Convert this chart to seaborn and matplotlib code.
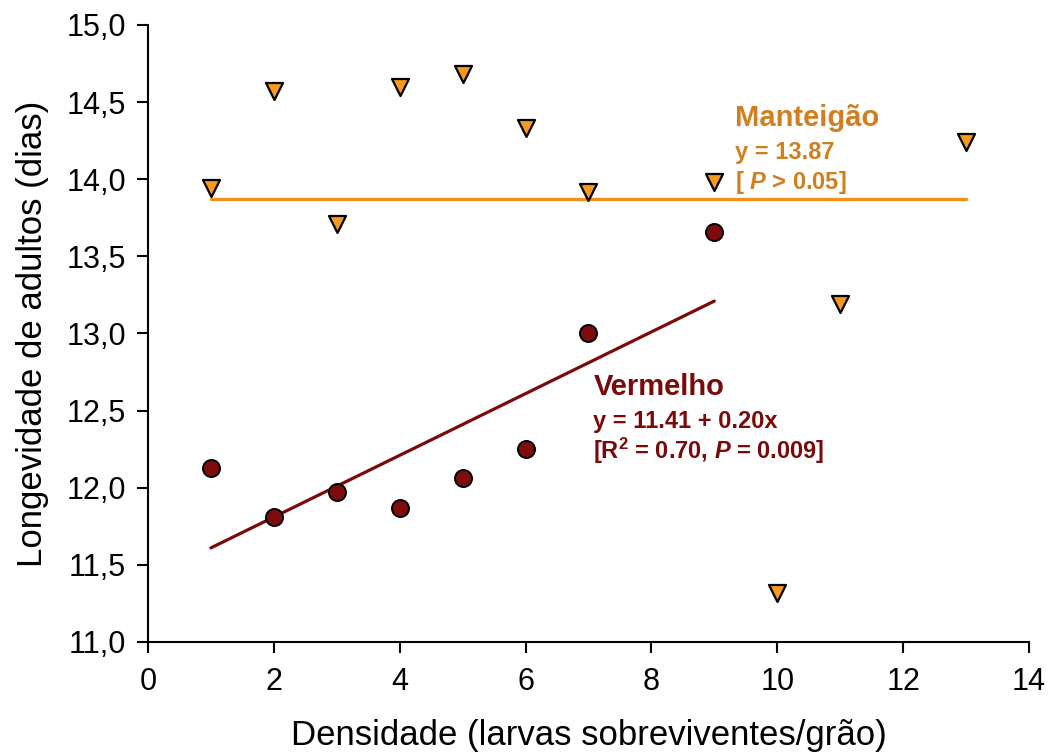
import numpy as np
import pandas as pd
import matplotlib
matplotlib.use("Agg")
import matplotlib.pyplot as plt
import seaborn as sns

# ---- data ----
x_mant = [1, 2, 3, 4, 5, 6, 7, 9, 10, 11, 13]
y_mant = [13.94, 14.57, 13.71, 14.60, 14.68, 14.33, 13.92, 13.98, 11.32, 13.19, 14.24]
x_verm = [1, 2, 3, 4, 5, 6, 7, 9]
y_verm = [12.13, 11.81, 11.97, 11.87, 12.06, 12.25, 13.00, 13.66]
mant_const = 13.87
verm_intercept, verm_slope = 11.41, 0.20
x_ticks = [0, 2, 4, 6, 8, 10, 12, 14]
y_ticks = [11.0, 11.5, 12.0, 12.5, 13.0, 13.5, 14.0, 14.5, 15.0]
x_label = "Densidade (larvas sobreviventes/grão)"
y_label = "Longevidade de adultos (dias)"

ORANGE_MK = "#F79A1E"
ORANGE_LN = "#F0921A"
ORANGE_TX = "#D07E20"
RED = "#7A0A0A"

sns.set_theme(style="ticks")
plt.rcParams["font.family"] = ["Liberation Sans", "DejaVu Sans"]
plt.rcParams["mathtext.fontset"] = "custom"
plt.rcParams["mathtext.rm"] = "Liberation Sans:bold"
plt.rcParams["mathtext.it"] = "Liberation Sans:bold:italic"
plt.rcParams["mathtext.bf"] = "Liberation Sans:bold"

fig = plt.figure(figsize=(10.51, 7.56), dpi=100)
ax = fig.add_axes([0.1408, 0.1508, 0.8382, 0.8162])

df_m = pd.DataFrame({"x": x_mant, "y": y_mant})
df_v = pd.DataFrame({"x": x_verm, "y": y_verm})

# fitted lines
lx_m = np.array([min(x_mant), max(x_mant)], dtype=float)
ly_m = np.full_like(lx_m, mant_const)
sns.lineplot(x=lx_m, y=ly_m, ax=ax, color=ORANGE_LN, linewidth=2.4, zorder=2)
lx_v = np.array([min(x_verm), max(x_verm)], dtype=float)
ly_v = verm_intercept + verm_slope * lx_v
sns.lineplot(x=lx_v, y=ly_v, ax=ax, color=RED, linewidth=2.3, zorder=2)

# points
sns.scatterplot(data=df_m, x="x", y="y", ax=ax, marker="v", s=150,
                color=ORANGE_MK, edgecolor="black", linewidth=1.6, zorder=3)
sns.scatterplot(data=df_v, x="x", y="y", ax=ax, marker="o", s=150,
                color="#7E0C0C", edgecolor="black", linewidth=1.4, zorder=3)

ax.set_xlim(0, 14)
ax.set_ylim(11, 15)
ax.set_xticks(x_ticks)
ax.set_yticks(y_ticks)
ax.set_xticklabels([str(t) for t in x_ticks])
ax.set_yticklabels([f"{t:.1f}".replace(".", ",") for t in y_ticks])
ax.tick_params(axis="both", direction="out", length=8, width=1.5,
               labelsize=22, colors="black", pad=8)
ax.tick_params(axis="x", pad=10)
for side in ["top", "right"]:
    ax.spines[side].set_visible(False)
for side in ["left", "bottom"]:
    ax.spines[side].set_linewidth(1.5)
    ax.spines[side].set_color("black")

ax.set_xlabel(x_label, fontsize=25, labelpad=16, color="black")
ax.set_ylabel(y_label, fontsize=25, labelpad=12, color="black")

# annotations
ax.text(9.33, 14.40, "Manteigão", color=ORANGE_TX, fontsize=21,
        fontweight="bold", va="center", ha="left")
ax.text(9.33, 14.17, "y = 13.87", color=ORANGE_TX, fontsize=17,
        fontweight="bold", va="center", ha="left")
ax.text(9.33, 13.98, r"[ $\mathit{P}$ > 0.05]", color=ORANGE_TX, fontsize=17,
        fontweight="bold", va="center", ha="left")

ax.text(7.08, 12.65, "Vermelho", color=RED, fontsize=21,
        fontweight="bold", va="center", ha="left")
ax.text(7.08, 12.43, "y = 11.41 + 0.20x", color=RED, fontsize=17,
        fontweight="bold", va="center", ha="left")
ax.text(7.08, 12.24, r"[R$^2$ = 0.70, $\mathit{P}$ = 0.009]", color=RED,
        fontsize=17, fontweight="bold", va="center", ha="left")

fig.savefig("out.png", dpi=100, facecolor="white")
